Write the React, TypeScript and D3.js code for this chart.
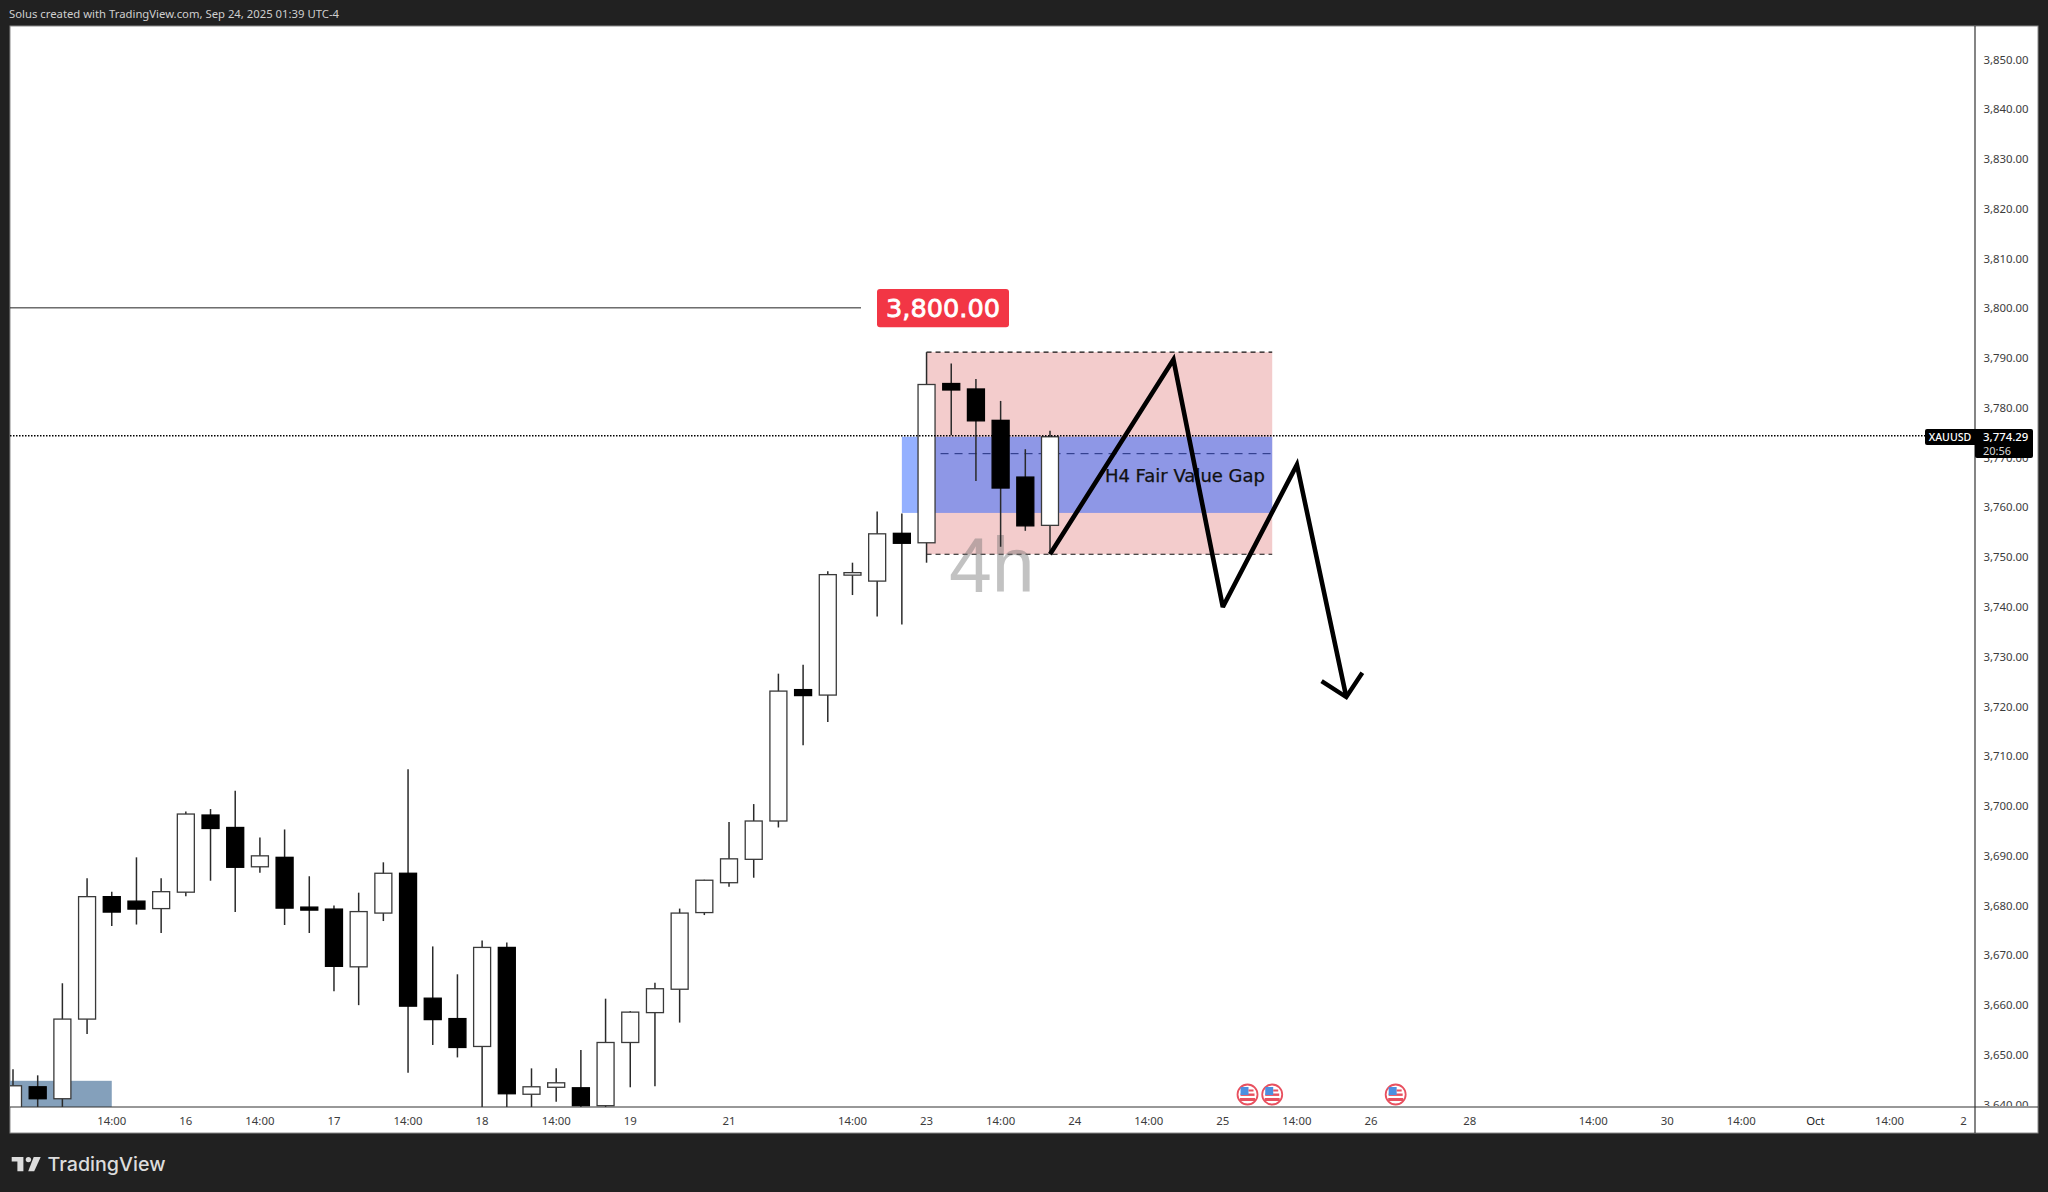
import React from 'react';
import * as d3 from 'd3';

const WIDTH = 2048;
const HEIGHT = 1192;

// One entry per 4h bar, left to right.
const opens = [3638.8,3643.5,3641.1,3657.1,3681.7,3680.8,3679.3,3682.6,3698.1,3695.6,3687.7,3689.6,3679.6,3679.2,3667.6,3678.4,3686.4,3661.3,3657.2,3651.6,3671.5,3642.0,3643.4,3643.3,3639.7,3652.4,3658.4,3663.1,3678.5,3684.5,3689.2,3696.9,3723.3,3722.2,3746.3,3745.1,3754.7,3752.8,3784.8,3783.7,3777.4,3766.0,3756.3];
const highs = [3647.0,3645.8,3664.3,3685.4,3682.7,3689.6,3685.4,3698.8,3699.3,3703.0,3693.6,3695.2,3685.8,3679.9,3682.5,3688.6,3707.3,3671.7,3666.1,3672.9,3672.5,3647.2,3647.2,3650.9,3661.2,3658.7,3664.4,3679.3,3685.1,3696.7,3700.3,3726.5,3728.3,3747.1,3748.8,3759.1,3758.7,3791.1,3788.8,3785.7,3781.3,3771.6,3775.3];
const lows = [3636.0,3636.0,3636.0,3654.1,3675.8,3676.1,3674.4,3681.8,3684.9,3678.6,3686.5,3676.0,3674.4,3662.7,3659.9,3676.8,3646.3,3651.9,3649.4,3636.0,3636.0,3636.0,3640.5,3639.4,3638.5,3643.4,3643.6,3656.4,3678.0,3683.7,3685.5,3695.6,3712.1,3716.8,3742.3,3738.0,3736.4,3748.8,3774.4,3765.2,3752.0,3755.2,3750.5];
const closes = [3643.7,3641.1,3657.1,3681.7,3678.6,3679.2,3682.7,3698.3,3695.4,3687.6,3689.9,3679.4,3679.0,3667.7,3678.7,3686.4,3659.7,3657.0,3651.4,3671.5,3642.1,3643.5,3644.3,3639.7,3652.4,3658.5,3663.2,3678.4,3685.0,3689.3,3696.9,3723.0,3722.1,3746.4,3746.8,3754.6,3752.7,3784.6,3783.5,3777.3,3763.8,3756.2,3774.1];

// 3,770.00 sits almost entirely under the last-price tag in the reference.
const priceTicks = [3640,3650,3660,3670,3680,3690,3700,3710,3720,3730,3740,3750,3760,3770,3780,3790,3800,3810,3820,3830,3840,3850];
const timeTickBars = [4,7,10,13,16,19,22,25,29,34,37,40,43,46,49,52,55,59,64,67,70,73,76,79];
const timeTickLabels = ['14:00','16','14:00','17','14:00','18','14:00','19','21','14:00','23','14:00','24','14:00','25','14:00','26','28','14:00','30','14:00','Oct','14:00','2'];

const eventBars = [50,51,56];

const projectionBars = [42,47,49,52,54];
const projectionPrices = [3750.5,3789.6,3739.9,3768.5,3721.8];
const arrowBars = [53,54,54.65];
const arrowPrices = [3725.0,3721.8,3726.7];

const lastPrice = 3774.29;
const levelPrice = 3800;
const zoneBars = [37,51];
const zonePrices = [3791.1,3750.5];
const gapBars = [36,51];
const gapPrices = [3774.1,3758.8];
const gapMid = 3770.7;
const oldZoneBars = [-1,4];
const oldZonePrices = [3644.7,3630];

const UI_FONT = '"Noto Sans", sans-serif';

const x = d3.scaleLinear().domain([0, 42]).range([13, 1050]);
const y = d3.scaleLinear().domain([3780, 3640]).range([407.4, 1104.2]);

const PANE = { left: 10, right: 1975, top: 26, bottom: 1107 };
const BODY_W = 17;

const pathLine = d3.line<number>()
  .x((_, i) => x(projectionBars[i]))
  .y((d) => y(d));
const arrowLine = d3.line<number>()
  .x((_, i) => x(arrowBars[i]))
  .y((d) => y(d));

function Flag({ cx, cy }: { cx: number; cy: number }) {
  return (
    <g>
      <circle cx={cx} cy={cy} r={10} fill="#fff" stroke="#e8505f" strokeWidth={1.8} />
      <rect x={cx - 7} y={cy - 1} width={14} height={2.4} fill="#e8505f" />
      <rect x={cx - 7.5} y={cy + 3.5} width={15} height={3} fill="#e8505f" />
      <rect x={cx - 7} y={cy - 7.5} width={8} height={8} fill="#4d8fe0" />
      <rect x={cx + 1} y={cy - 5} width={5} height={2} fill="#e8505f" />
    </g>
  );
}

export default function App() {
  return (
    <svg
      width={WIDTH}
      height={HEIGHT}
      viewBox={`0 0 ${WIDTH} ${HEIGHT}`}
      style={{ position: 'absolute', left: 0, top: 0, display: 'block' }}
    >
      <defs>
        <clipPath id="pane">
          <rect x={PANE.left} y={PANE.top} width={PANE.right - PANE.left} height={PANE.bottom - PANE.top} />
        </clipPath>
        <clipPath id="scale">
          <rect x={PANE.right} y={PANE.top} width={63} height={PANE.bottom - PANE.top - 1} />
        </clipPath>
      </defs>

      <rect width={WIDTH} height={HEIGHT} fill="#212121" />
      <rect x={10} y={26} width={2028} height={1107} fill="#fff" stroke="#8a8a8a" strokeWidth={1} />

      <text x={9} y={18} fill="#cfcfcf" fontFamily={UI_FONT} fontSize={11.2} textLength={330} lengthAdjust="spacingAndGlyphs">
        Solus created with TradingView.com, Sep 24, 2025 01:39 UTC-4
      </text>

      <g clipPath="url(#pane)">
        <rect
          x={x(oldZoneBars[0])}
          y={y(oldZonePrices[0])}
          width={x(oldZoneBars[1]) - x(oldZoneBars[0])}
          height={y(oldZonePrices[1]) - y(oldZonePrices[0])}
          fill="#84a0bb"
        />

        <rect
          x={x(zoneBars[0])}
          y={y(zonePrices[0])}
          width={x(zoneBars[1]) - x(zoneBars[0])}
          height={y(zonePrices[1]) - y(zonePrices[0])}
          fill="#f3cccc"
        />
        <rect
          x={x(gapBars[0])}
          y={y(gapPrices[0])}
          width={x(gapBars[1]) - x(gapBars[0])}
          height={y(gapPrices[1]) - y(gapPrices[0])}
          fill="#2962ff"
          fillOpacity={0.5}
        />
        {zonePrices.map((p) => (
          <line key={p} x1={x(zoneBars[0])} x2={x(zoneBars[1])} y1={y(p)} y2={y(p)} stroke="#111" strokeWidth={1.2} strokeDasharray="5 4" />
        ))}
        <line x1={x(zoneBars[0])} x2={x(zoneBars[1])} y1={y(gapMid)} y2={y(gapMid)} stroke="#22307e" strokeWidth={1} strokeDasharray="8 6" />

        <text x={949} y={592} fill="#6e6e6e" fillOpacity={0.42} fontFamily='"Liberation Sans", sans-serif' fontSize={77}>4h</text>

        <line x1={PANE.left} x2={861} y1={y(levelPrice)} y2={y(levelPrice)} stroke="#222" strokeWidth={1} />

        {opens.map((o, i) => {
          const c = closes[i];
          const up = c >= o;
          const top = y(Math.max(o, c));
          const bottom = y(Math.min(o, c));
          return (
            <g key={i}>
              <line x1={x(i)} x2={x(i)} y1={y(highs[i])} y2={y(lows[i])} stroke="#2a2a2a" strokeWidth={1.5} />
              <rect
                x={x(i) - BODY_W / 2}
                y={top}
                width={BODY_W}
                height={Math.max(bottom - top, 1.5)}
                fill={up ? '#fff' : '#000'}
                stroke={up ? '#3a3a3a' : '#000'}
                strokeWidth={1.3}
              />
            </g>
          );
        })}

        <line x1={PANE.left} x2={1925} y1={y(lastPrice)} y2={y(lastPrice)} stroke="#000" strokeWidth={1.6} strokeDasharray="1.5 1.5" />

        <text x={1265} y={481.5} textAnchor="end" fill="#111" stroke="#111" strokeWidth={0.25} fontFamily='"DejaVu Sans", sans-serif' fontSize={18}>H4 Fair Value Gap</text>

        <path d={pathLine(projectionPrices) ?? ''} fill="none" stroke="#000" strokeWidth={4.6} strokeLinejoin="miter" strokeMiterlimit={3} />
        <path d={arrowLine(arrowPrices) ?? ''} fill="none" stroke="#000" strokeWidth={4.4} />

        {eventBars.map((b) => <Flag key={b} cx={x(b)} cy={1094.5} />)}
      </g>

      <g>
        <rect x={877} y={289} width={132} height={38.3} rx={3} fill="#f23645" />
        <text x={943} y={308} textAnchor="middle" dominantBaseline="central" fill="#fff" stroke="#fff" strokeWidth={0.8} fontFamily='"DejaVu Sans", sans-serif' fontSize={25.6}>3,800.00</text>
      </g>

      <line x1={PANE.right} x2={PANE.right} y1={26} y2={1133} stroke="#333" strokeWidth={1.2} />
      <line x1={10} x2={2038} y1={PANE.bottom} y2={PANE.bottom} stroke="#333" strokeWidth={1.2} />

      <g clipPath="url(#scale)">
        {priceTicks.map((p) => (
          <text key={p} x={2006} y={y(p)} textAnchor="middle" dominantBaseline="central" fill="#3c3c3c" fontFamily={UI_FONT} fontSize={11.4}>
            {d3.format(',.2f')(p)}
          </text>
        ))}
      </g>

      {timeTickBars.map((b, i) => (
        <text key={b} x={x(b)} y={1120.5} textAnchor="middle" dominantBaseline="central" fill={timeTickLabels[i] === 'Oct' ? '#222' : '#3c3c3c'} fontFamily={UI_FONT} fontSize={11.4}>
          {timeTickLabels[i]}
        </text>
      ))}

      <rect x={1925} y={429} width={55} height={16} rx={2} fill="#000" />
      <rect x={1975} y={429} width={58} height={29} rx={2} fill="#000" />
      <text x={1950} y={437} textAnchor="middle" dominantBaseline="central" fill="#fff" fontFamily={UI_FONT} fontSize={10.6} fontWeight={500}>XAUUSD</text>
      <text x={1983} y={436.5} dominantBaseline="central" fill="#fff" fontFamily={UI_FONT} fontSize={11.4} fontWeight={500}>{d3.format(',.2f')(lastPrice)}</text>
      <text x={1983} y={450} dominantBaseline="central" fill="#d8d8d8" fontFamily={UI_FONT} fontSize={11}>20:56</text>

      <g fill="#dcdcdc" transform="translate(0 1.2)">
        <path d="M11.7 1155.7H23.4V1170H17.4V1160.2H11.7Z" />
        <circle cx={28.4} cy={1158.4} r={2.7} />
        <path d="M33.7 1155.7H40.7L34.2 1170H28.2Z" />
      </g>
      <text x={47.5} y={1171.2} fill="#dcdcdc" fontFamily='Inter, sans-serif' fontWeight={500} fontSize={19} textLength={118} lengthAdjust="spacingAndGlyphs">TradingView</text>
    </svg>
  );
}
